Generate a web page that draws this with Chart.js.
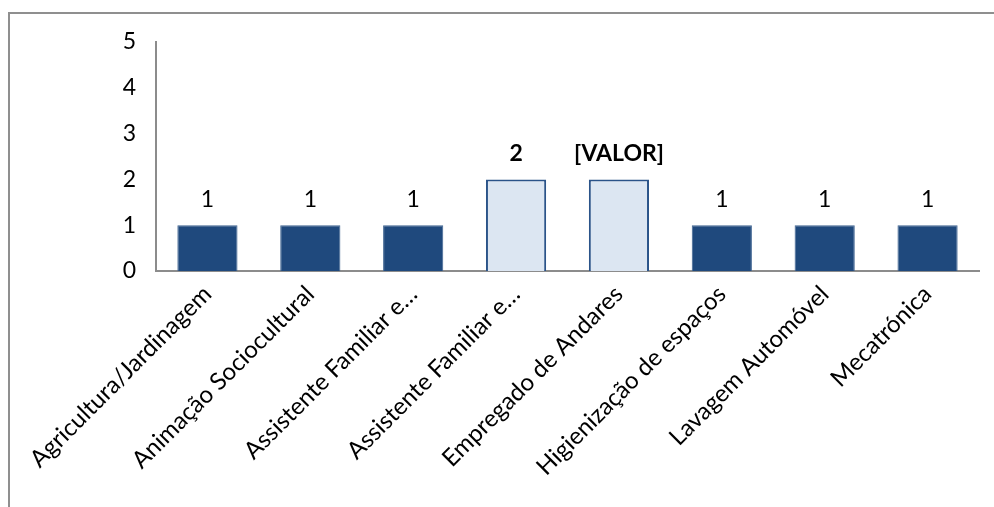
<!DOCTYPE html>
<html>
<head>
<meta charset="utf-8">
<script src="https://cdn.jsdelivr.net/npm/chart.js@4"></script>
<style>
html,body{margin:0;padding:0;background:#fff;}
#wrap{width:994px;height:507px;position:relative;}
</style>
</head>
<body>
<div id="wrap"><canvas id="c" width="994" height="507"></canvas></div>
<script>
const categories = ["Agricultura/Jardinagem","Animação Sociocultural","Assistente Familiar e…","Assistente Familiar e…","Empregado de Andares","Higienização de espaços","Lavagem Automóvel","Mecatrónica"];
const values = [1,1,1,2,2,1,1,1];
const valueLabels = ["1","1","1","2","[VALOR]","1","1","1"];
const boldLabels = [false,false,false,true,true,false,false,false];
const yTicks = [0,1,2,3,4,5];

const FONT = "Lato, 'Open Sans', sans-serif";
const dark = "#1F497D";
const light = "#DCE6F2";

const fills = values.map((v,i)=> boldLabels[i] ? light : dark);
const borders = values.map((v,i)=> boldLabels[i] ? "#2A5389" : "#3E6390");
const bw = values.map((v,i)=> boldLabels[i] ? 2 : 1);

const frame = {
  id:'frame',
  beforeDraw(chart){
    const ctx = chart.ctx;
    ctx.save();
    ctx.fillStyle = '#fff';
    ctx.fillRect(0,0,chart.width,chart.height);
    ctx.strokeStyle = '#8f8f8f';
    ctx.lineWidth = 2;
    ctx.strokeRect(9, 13, 1100, 1100);
    ctx.restore();
  }
};
const labelsPlugin = {
  id:'vlabels',
  afterDatasetsDraw(chart){
    const ctx = chart.ctx;
    const meta = chart.getDatasetMeta(0);
    ctx.save();
    ctx.fillStyle = '#000';
    ctx.textAlign = 'center';
    ctx.textBaseline = 'middle';
    meta.data.forEach((bar,i)=>{
      ctx.font = (boldLabels[i] ? 'bold ' : '') + '23px ' + FONT;
      ctx.fillText(valueLabels[i], bar.x, bar.y - 26);
    });
    ctx.restore();
  }
};

new Chart(document.getElementById('c'), {
  type:'bar',
  data:{
    labels:categories,
    datasets:[{
      data:values,
      backgroundColor:fills,
      borderColor:borders,
      borderWidth:bw,
      barPercentage:0.585,
      categoryPercentage:1
    }]
  },
  options:{
    responsive:false,
    animation:false,
    devicePixelRatio:1,
    layout:{padding:{top:42,right:15,left:0,bottom:0}},
    plugins:{legend:{display:false},tooltip:{enabled:false}},
    scales:{
      x:{
        grid:{display:false,drawTicks:false},
        border:{display:true,color:'#8c8c8c',width:2},
        ticks:{
          color:'#000',
          font:{family:FONT,size:24},
          minRotation:45,maxRotation:45,
          autoSkip:false,padding:9
        },
        afterFit(s){ s.height = 507 - 271; }
      },
      y:{
        min:0,max:5,
        grid:{display:false,drawTicks:false},
        border:{display:true,color:'#8c8c8c',width:2},
        afterBuildTicks(s){ s.ticks = yTicks.map(v=>({value:v})); },
        ticks:{
          color:'#000',
          font:{family:FONT,size:23},
          padding:20
        },
        afterFit(s){ s.width = 156; }
      }
    }
  },
  plugins:[frame,labelsPlugin]
});
</script>
</body>
</html>
